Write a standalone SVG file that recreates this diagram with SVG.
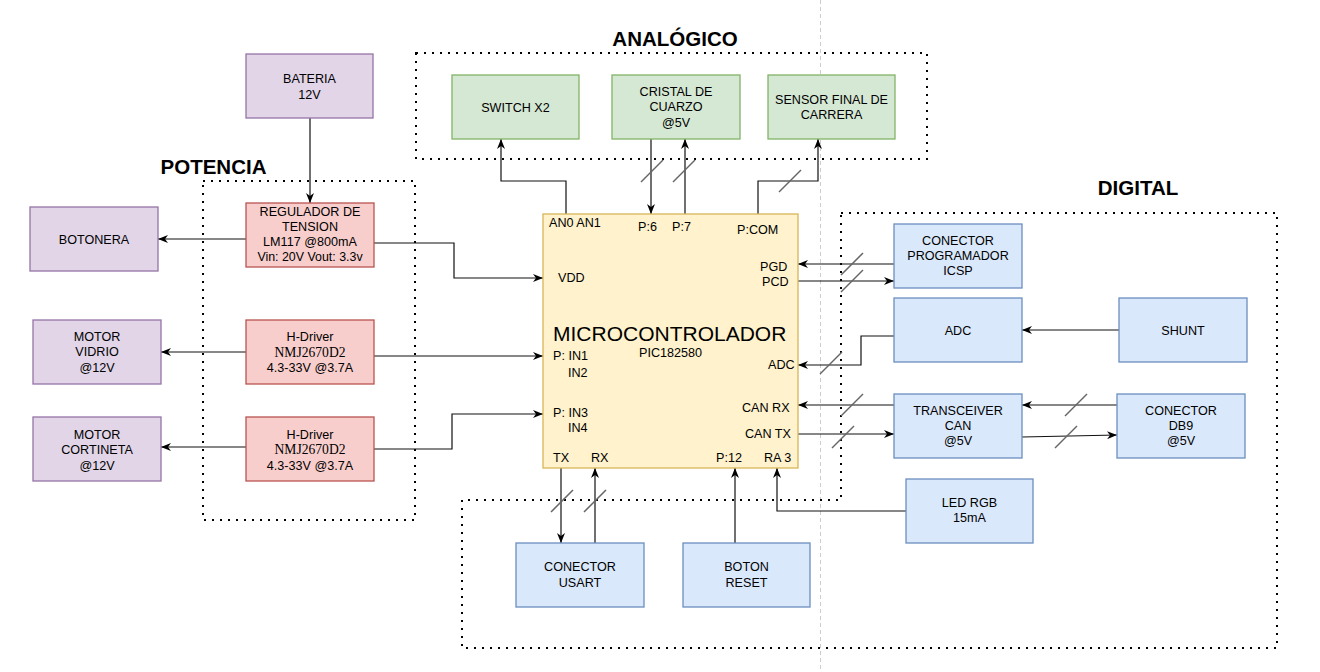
<svg xmlns="http://www.w3.org/2000/svg" width="1320" height="672" viewBox="0 0 1320 672">
<defs>
<style>
.t{font-family:"Liberation Sans",Arial,Helvetica,sans-serif;font-size:12.6px;fill:#000;text-anchor:middle}
.s{font-family:"Liberation Serif","Times New Roman",serif;font-size:13.6px;fill:#000;text-anchor:middle}
.l{font-family:"Liberation Sans",Arial,Helvetica,sans-serif;font-size:12.6px;fill:#000}
.big{font-family:"Liberation Sans",Arial,Helvetica,sans-serif;font-size:21px;fill:#000}
.title{font-family:"Liberation Sans",Arial,Helvetica,sans-serif;font-size:20.5px;font-weight:bold;fill:#000;text-anchor:middle}
.g{fill:#d5e8d4;stroke:#82b366;stroke-width:1.3}
.p{fill:#e1d5e7;stroke:#9673a6;stroke-width:1.3}
.r{fill:#f8cecc;stroke:#b85450;stroke-width:1.3}
.b{fill:#dae8fc;stroke:#6c8ebf;stroke-width:1.3}
.y{fill:#fff2cc;stroke:#d6b656;stroke-width:1.3}
.dot{fill:none;stroke:#000;stroke-width:2;stroke-dasharray:2 6}
.e{fill:none;stroke:#111;stroke-width:1.2}
.sl{stroke:#666;stroke-width:1.5}
</style>
<marker id="a" viewBox="0 0 10 8" refX="10" refY="4" markerWidth="10" markerHeight="8" markerUnits="userSpaceOnUse" orient="auto">
<path d="M0,0 L10,4 L0,8 L3,4 z" fill="#000"/>
</marker>
</defs>
<rect width="1320" height="672" fill="#fff"/>
<line x1="820.5" y1="0" x2="820.5" y2="672" stroke="#ccc" stroke-width="1" stroke-dasharray="4 3"/>

<g id="groups">
<rect class="dot" x="416" y="53" width="511" height="106"/>
<rect class="dot" x="203" y="181" width="212" height="339"/>
<path class="dot" d="M841,213 H1277 V648 H462 V500 H841 Z"/>
<text class="title" x="675" y="46">ANALÓGICO</text>
<text class="title" x="213.5" y="174">POTENCIA</text>
<text class="title" x="1138" y="195">DIGITAL</text>
</g>

<g id="connectors">
<path class="e" d="M310,118 V203" marker-end="url(#a)"/>
<path class="e" d="M246,239 H158" marker-end="url(#a)"/>
<path class="e" d="M374,243 H454 V278 H543" marker-end="url(#a)"/>
<path class="e" d="M246,352 H161" marker-end="url(#a)"/>
<path class="e" d="M374,356 H543" marker-end="url(#a)"/>
<path class="e" d="M246,447 H161" marker-end="url(#a)"/>
<path class="e" d="M374,449 H452 V414 H543" marker-end="url(#a)"/>
<path class="e" d="M566,214 V181 H501 V139" marker-end="url(#a)"/>
<path class="e" d="M651,139 V214" marker-end="url(#a)"/>
<path class="e" d="M685,214 V139" marker-end="url(#a)"/>
<path class="e" d="M758,214 V181 H818 V139" marker-end="url(#a)"/>
<path class="e" d="M894,264 H798" marker-end="url(#a)"/>
<path class="e" d="M798,281 H894" marker-end="url(#a)"/>
<path class="e" d="M894,336 H861 V365 H798" marker-end="url(#a)"/>
<path class="e" d="M1119,330 H1022" marker-end="url(#a)"/>
<path class="e" d="M894,405 H798" marker-end="url(#a)"/>
<path class="e" d="M798,434 H894" marker-end="url(#a)"/>
<path class="e" d="M1117,405 H1022" marker-end="url(#a)"/>
<path class="e" d="M1022,437 L1117,435" marker-end="url(#a)"/>
<path class="e" d="M561,468 V543" marker-end="url(#a)"/>
<path class="e" d="M595,543 V468" marker-end="url(#a)"/>
<path class="e" d="M735,543 V468" marker-end="url(#a)"/>
<path class="e" d="M906,511 H777 V468" marker-end="url(#a)"/>
<g id="slashes">
<line class="sl" x1="641" y1="182" x2="663" y2="160"/>
<line class="sl" x1="673" y1="182" x2="695" y2="160"/>
<line class="sl" x1="779" y1="192" x2="801" y2="170"/>
<line class="sl" x1="841" y1="275" x2="863" y2="253"/>
<line class="sl" x1="841" y1="292" x2="863" y2="270"/>
<line class="sl" x1="820" y1="374" x2="842" y2="352"/>
<line class="sl" x1="841" y1="416" x2="863" y2="394"/>
<line class="sl" x1="832" y1="448" x2="854" y2="426"/>
<line class="sl" x1="1065" y1="416" x2="1087" y2="394"/>
<line class="sl" x1="1055" y1="448" x2="1077" y2="426"/>
<line class="sl" x1="551" y1="512" x2="573" y2="490"/>
<line class="sl" x1="584" y1="512" x2="606" y2="490"/>
</g>
</g>

<g id="switch"><rect class="g" x="452" y="75" width="127" height="64"/><text class="t" x="515.5" y="111.5">SWITCH X2</text></g>
<g id="cristal"><rect class="g" x="612" y="75" width="128" height="64"/><text class="t" x="676" y="96">CRISTAL DE</text><text class="t" x="676" y="111">CUARZO</text><text class="t" x="676" y="126.5">@5V</text></g>
<g id="sensor"><rect class="g" x="768" y="75" width="127" height="64"/><text class="t" x="831.5" y="103.5">SENSOR FINAL DE</text><text class="t" x="831.5" y="118.5">CARRERA</text></g>

<g id="bateria"><rect class="p" x="246" y="54" width="127" height="64"/><text class="t" x="309.5" y="82.5">BATERIA</text><text class="t" x="309.5" y="98.5">12V</text></g>
<g id="regulador"><rect class="r" x="246" y="203" width="128" height="64"/><text class="t" x="310" y="216">REGULADOR DE</text><text class="t" x="310" y="231">TENSION</text><text class="t" x="310" y="246">LM117 @800mA</text><text class="t" x="310" y="261" style="font-size:12.4px">Vin: 20V Vout: 3.3v</text></g>
<g id="botonera"><rect class="p" x="30" y="207" width="128" height="64"/><text class="t" x="94" y="243.5">BOTONERA</text></g>
<g id="motor-vidrio"><rect class="p" x="33" y="320" width="128" height="64"/><text class="t" x="97" y="341">MOTOR</text><text class="t" x="97" y="356">VIDRIO</text><text class="t" x="97" y="371.5">@12V</text></g>
<g id="hdriver1"><rect class="r" x="246" y="320" width="128" height="64"/><text class="t" x="310" y="341">H-Driver</text><text class="s" x="310" y="356.5">NMJ2670D2</text><text class="t" x="310" y="371.5">4.3-33V @3.7A</text></g>
<g id="motor-cortineta"><rect class="p" x="33" y="417" width="128" height="64"/><text class="t" x="97" y="438.5">MOTOR</text><text class="t" x="97" y="454">CORTINETA</text><text class="t" x="97" y="469.5">@12V</text></g>
<g id="hdriver2"><rect class="r" x="246" y="417" width="128" height="64"/><text class="t" x="310" y="438.5">H-Driver</text><text class="s" x="310" y="454">NMJ2670D2</text><text class="t" x="310" y="469.5">4.3-33V @3.7A</text></g>

<g id="mcu">
<rect class="y" x="543" y="214" width="255" height="254"/>
<text class="l" x="549" y="227">AN0 AN1</text>
<text class="l" x="638" y="231">P:6</text>
<text class="l" x="672" y="231">P:7</text>
<text class="l" x="737" y="234">P:COM</text>
<text class="l" x="558" y="282">VDD</text>
<text class="l" x="760" y="271">PGD</text>
<text class="l" x="762" y="286">PCD</text>
<text class="big" x="553" y="341">MICROCONTROLADOR</text>
<text class="t" x="670.5" y="357">PIC182580</text>
<text class="l" x="553" y="360">P: IN1</text>
<text class="l" x="568" y="377">IN2</text>
<text class="l" x="768" y="369">ADC</text>
<text class="l" x="553" y="417">P: IN3</text>
<text class="l" x="568" y="432">IN4</text>
<text class="l" x="742" y="412">CAN RX</text>
<text class="l" x="745" y="438">CAN TX</text>
<text class="l" x="553" y="462">TX</text>
<text class="l" x="591" y="462">RX</text>
<text class="l" x="716" y="462">P:12</text>
<text class="l" x="764" y="462">RA 3</text>
</g>

<g id="icsp"><rect class="b" x="894" y="224" width="128" height="64"/><text class="t" x="958" y="244.5">CONECTOR</text><text class="t" x="958" y="259.5">PROGRAMADOR</text><text class="t" x="958" y="275">ICSP</text></g>
<g id="adc"><rect class="b" x="894" y="298" width="128" height="64"/><text class="t" x="958" y="334.5">ADC</text></g>
<g id="shunt"><rect class="b" x="1119" y="298" width="128" height="64"/><text class="t" x="1183" y="334.5">SHUNT</text></g>
<g id="transceiver"><rect class="b" x="894" y="394" width="128" height="64"/><text class="t" x="958" y="414.5">TRANSCEIVER</text><text class="t" x="958" y="429.5">CAN</text><text class="t" x="958" y="445">@5V</text></g>
<g id="db9"><rect class="b" x="1117" y="394" width="128" height="64"/><text class="t" x="1181" y="414.5">CONECTOR</text><text class="t" x="1181" y="429.5">DB9</text><text class="t" x="1181" y="445">@5V</text></g>
<g id="led"><rect class="b" x="906" y="479" width="127" height="64"/><text class="t" x="969.5" y="507">LED RGB</text><text class="t" x="969.5" y="522">15mA</text></g>
<g id="usart"><rect class="b" x="516" y="543" width="128" height="64"/><text class="t" x="580" y="571">CONECTOR</text><text class="t" x="580" y="586.5">USART</text></g>
<g id="reset"><rect class="b" x="683" y="543" width="127" height="64"/><text class="t" x="746.5" y="571">BOTON</text><text class="t" x="746.5" y="586.5">RESET</text></g>
</svg>
